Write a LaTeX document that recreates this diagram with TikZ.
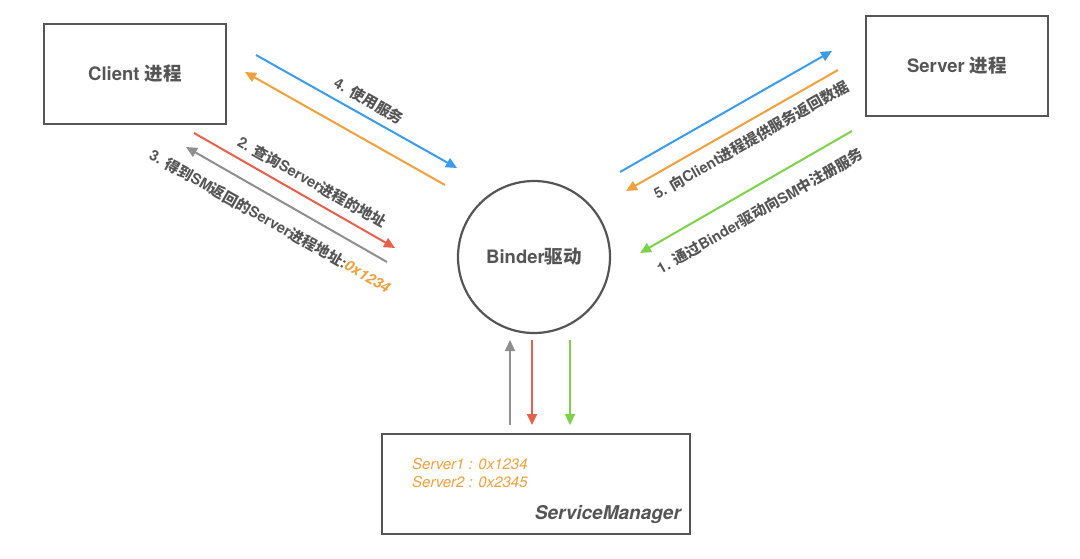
\documentclass[tikz,border=0pt]{standalone}
\usepackage{fontspec}
\setmainfont{TeX Gyre Heros}
\newfontfamily\zh{Noto Sans CJK SC}
\usetikzlibrary{arrows.meta}
\definecolor{ablue}{HTML}{3B9CEB}
\definecolor{aorange}{HTML}{F0A03C}
\definecolor{ared}{HTML}{E6614B}
\definecolor{agrey}{HTML}{8E8E8E}
\definecolor{agreen}{HTML}{7DD24A}
\definecolor{ink}{HTML}{555555}
\newcommand{\zi}[1]{{\zh\bfseries #1}}
\newcommand{\hx}[1]{{\color{aorange}\itshape #1}}

\begin{document}
\begin{tikzpicture}[x=1pt,y=-1pt]
                        \tikzstyle{proc}=[draw=ink, line width=2.2pt, minimum width=182pt, minimum height=100pt, text=ink, font=\fontsize{18.5}{22}\selectfont\bfseries, inner sep=0pt]
                        \tikzstyle{msg}=[line width=2pt, -{Triangle[length=11pt,width=10pt]}]
                        \tikzstyle{note}=[text=ink, font=\fontsize{14.8}{17}\selectfont\bfseries, inner sep=0pt]
                        \useasboundingbox (0,0) rectangle (1080,558);
                        \node[proc] (client) at (135,74) {Client \zi{进程}};
                        \node[proc] (server) at (957,66) {Server \zi{进程}};
                        \node[draw=ink, line width=2.2pt, circle, minimum size=152pt, text=ink, font=\fontsize{18.5}{22}\selectfont\bfseries] (binder) at (534,257) {Binder\zi{驱动}};
                        \node[proc, minimum width=308pt] (sm) at (536,484) {};
                        \node[anchor=west, text=aorange, font=\fontsize{15}{18}\selectfont\itshape, align=left, inner sep=0pt] (table) at (412,473) {Server1 : 0x1234\\Server2 : 0x2345};
                        \node[anchor=south east, text=ink, font=\fontsize{19}{22}\selectfont\bfseries\itshape, inner sep=0pt] (smname) at (sm.south east) [xshift=-10pt, yshift=11pt] {ServiceManager};
                        \coordinate (c1) at (256,55);
                        \coordinate (c2) at (457,168);
                        \coordinate (c3) at (445,185);
                        \coordinate (c4) at (245,72);
                        \coordinate (c5) at (194,133);
                        \coordinate (c6) at (395,248);
                        \coordinate (c7) at (387,262);
                        \coordinate (c8) at (186,147);
                        \coordinate (s1) at (620,172);
                        \coordinate (s2) at (832,51);
                        \coordinate (s3) at (838,70);
                        \coordinate (s4) at (626,191);
                        \coordinate (s5) at (852,131);
                        \coordinate (s6) at (640,253);
                        \coordinate (v1) at (510,425);
                        \coordinate (v2) at (510,340);
                        \coordinate (v3) at (532,340);
                        \coordinate (v4) at (532,425);
                        \coordinate (v5) at (570,340);
                        \coordinate (v6) at (570,425);
                        \draw[msg, ablue] (c1) -- (c2);
                        \draw[msg, aorange] (c3) -- (c4);
                        \draw[msg, ared] (c5) -- (c6);
                        \draw[msg, agrey] (c7) -- (c8);
                        \draw[msg, ablue] (s1) -- (s2);
                        \draw[msg, aorange] (s3) -- (s4);
                        \draw[msg, agreen] (s5) -- (s6);
                        \draw[msg, agrey] (v1) -- (v2);
                        \draw[msg, ared] (v3) -- (v4);
                        \draw[msg, agreen] (v5) -- (v6);
                        \node[note, rotate=-29.5] (n4) at (369,101) {4. \zi{使用服务}};
                        \node[note, rotate=-29.5] (n2) at (312,182) {2. \zi{查询}Server\zi{进程的地址}};
                        \node[note, rotate=-29.5] (n3) at (270,221) {3. \zi{得到}SM\zi{返回的}Server\zi{进程地址}:\hx{0x1234}};
                        \node[note, rotate=29.8] (n5) at (751,140) {5. \zi{向}Client\zi{进程提供服务返回数据}};
                        \node[note, rotate=29.8] (n1) at (760,211) {1. \zi{通过}Binder\zi{驱动向}SM\zi{中注册服务}};
                    \end{tikzpicture}
\end{document}
